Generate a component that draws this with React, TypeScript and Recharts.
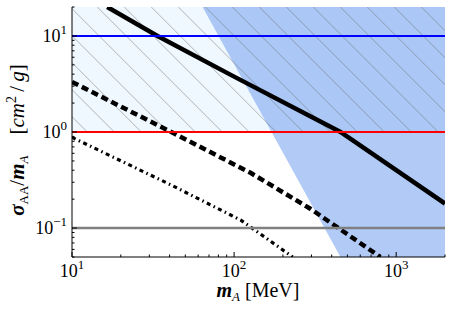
import { ComposedChart, Line, Area, XAxis, YAxis, Label } from 'recharts'

// x: m_A [MeV], y: sigma/m [cm^2/g], log-log
const xMajor = [10, 100, 1000]
const xMinor = [20, 30, 40, 50, 60, 70, 80, 90, 200, 300, 400, 500, 600, 700, 800, 900, 2000]
const yMajor = [0.1, 1, 10]
const yMinor = [0.05, 0.06, 0.07, 0.08, 0.09, 0.2, 0.3, 0.4, 0.5, 0.6, 0.7, 0.8, 0.9, 2, 3, 4, 5, 6, 7, 8, 9, 20]

const solidMass = [16.5, 33.7, 100, 453, 2000]
const solidSigma = [20, 10, 3.77, 1, 0.18]

const dashedMass = [10, 41, 127, 297, 798]
const dashedSigma = [3.32, 1, 0.374, 0.158, 0.05]

const dashDotMass = [10, 41, 110, 230]
const dashDotSigma = [0.88, 0.28, 0.121, 0.05]

const limitMass = [10, 2000]
const blueLevel = 10
const redLevel = 1
const grayLevel = 0.1

// shaded regions: [low, high] per x
const excludedMass = [63.9, 453, 2000]
const excludedLow = [20, 0.05, 0.05]
const excludedHigh = [20, 20, 20]

const hatchMass = [10, 2000]
const hatchLow = [1, 1]
const hatchHigh = [20, 20]

const rows = (m: number[], s: number[]) => m.map((v, i) => ({ m: v, s: s[i] }))
const ranges = (m: number[], lo: number[], hi: number[]) => m.map((v, i) => ({ m: v, r: [lo[i], hi[i]] }))
const flat = (lvl: number) => limitMass.map((v) => ({ m: v, s: lvl }))

const FONT = 'Liberation Serif'
const TICK_FS = 18

const isMajor = (list: number[], v: number) => list.some((t) => Math.abs(t - v) < 1e-9)

const Pow = ({ v }: { v: number }) => {
  const e = Math.round(Math.log10(v))
  return (
    <>
      <tspan>10</tspan>
      <tspan dy={-8} fontSize={13}>{e < 0 ? '\u2212' + Math.abs(e) : String(e)}</tspan>
    </>
  )
}

const BottomTick = (props: any) => {
  const { x, y, payload } = props
  const major = isMajor(xMajor, payload.value)
  return (
    <g>
      <line x1={x} y1={y} x2={x} y2={y - (major ? 5 : 2.5)} stroke="#000" strokeWidth={1} />
      {major && (
        <text x={x} y={y + 20} textAnchor="middle" fontFamily={FONT} fontSize={TICK_FS} fill="#000">
          <Pow v={payload.value} />
        </text>
      )}
    </g>
  )
}

const TopTick = (props: any) => {
  const { x, y, payload } = props
  const major = isMajor(xMajor, payload.value)
  return <line x1={x} y1={y} x2={x} y2={y + (major ? 5 : 2.5)} stroke="#000" strokeWidth={1} />
}

const LeftTick = (props: any) => {
  const { x, y, payload } = props
  const major = isMajor(yMajor, payload.value)
  return (
    <g>
      <line x1={x} y1={y} x2={x + (major ? 5 : 2.5)} y2={y} stroke="#000" strokeWidth={1} />
      {major && (
        <text x={x - 5} y={y + 6} textAnchor="end" fontFamily={FONT} fontSize={TICK_FS} fill="#000">
          <Pow v={payload.value} />
        </text>
      )}
    </g>
  )
}

const RightTick = (props: any) => {
  const { x, y, payload } = props
  const major = isMajor(yMajor, payload.value)
  return <line x1={x} y1={y} x2={x - (major ? 5 : 2.5)} y2={y} stroke="#000" strokeWidth={1} />
}

const YTitle = () => (
  <text
    x={24}
    y={140}
    transform="rotate(-90, 24, 140)"
    textAnchor="middle"
    fontFamily={FONT}
    fontSize={21}
    fill="#000"
  >
    <tspan fontWeight="bold" fontStyle="italic">σ</tspan>
    <tspan fontSize={13} dy={4}>AA</tspan>
    <tspan dy={-4}>/</tspan>
    <tspan fontWeight="bold" fontStyle="italic">m</tspan>
    <tspan fontSize={13} dy={4} fontStyle="italic">A</tspan>
    <tspan dy={-4}>{'\u00a0\u00a0\u00a0\u00a0['}</tspan>
    <tspan fontStyle="italic">cm</tspan>
    <tspan fontSize={14} dy={-8}>2</tspan>
    <tspan dy={8}>{'\u2009/\u2009'}</tspan>
    <tspan fontStyle="italic">g</tspan>
    <tspan>]</tspan>
  </text>
)

const XTitle = () => (
  <text x={258} y={297} textAnchor="middle" fontFamily={FONT} fontSize={20} fill="#000">
    <tspan fontWeight="bold" fontStyle="italic">m</tspan>
    <tspan fontSize={13} dy={4} fontStyle="italic">A</tspan>
    <tspan dy={-4}>{'\u00a0[MeV]'}</tspan>
  </text>
)

export default function App() {
  return (
    <div style={{ position: 'absolute', left: 0, top: 0, background: '#fff' }}>
      <ComposedChart width={454} height={310} margin={{ top: 7, right: 9, bottom: 0, left: 0 }}>
        <defs>
          <pattern id="hatch" patternUnits="userSpaceOnUse" x={9.3} y={0} width={27} height={27}>
            <path d="M-1,-1 L28,28 M-1,26 L1,28 M26,-1 L28,1" stroke="#6f6f6f" strokeWidth={0.5} fill="none" />
          </pattern>
        </defs>
        <XAxis
          xAxisId="b"
          dataKey="m"
          type="number"
          scale="log"
          domain={[10, 2000]}
          allowDataOverflow
          ticks={[...xMajor, ...xMinor]}
          interval={0}
          tickSize={0}
          tickMargin={0}
          tickLine={false}
          tick={BottomTick}
          height={53}
          axisLine={{ stroke: '#000', strokeWidth: 1 }}
        >
          <Label content={XTitle} />
        </XAxis>
        <XAxis
          xAxisId="t"
          orientation="top"
          dataKey="m"
          type="number"
          scale="log"
          domain={[10, 2000]}
          allowDataOverflow
          ticks={[...xMajor, ...xMinor]}
          interval={0}
          tickSize={0}
          tickMargin={0}
          tickLine={false}
          tick={TopTick}
          height={0}
          axisLine={{ stroke: '#000', strokeWidth: 1 }}
        />
        <YAxis
          yAxisId="l"
          type="number"
          scale="log"
          domain={[0.05, 20]}
          allowDataOverflow
          ticks={[...yMajor, ...yMinor]}
          interval={0}
          tickSize={0}
          tickMargin={0}
          tickLine={false}
          tick={LeftTick}
          width={72}
          axisLine={{ stroke: '#000', strokeWidth: 1 }}
        >
          <Label content={YTitle} />
        </YAxis>
        <YAxis
          yAxisId="r"
          orientation="right"
          type="number"
          scale="log"
          domain={[0.05, 20]}
          allowDataOverflow
          ticks={[...yMajor, ...yMinor]}
          interval={0}
          tickSize={0}
          tickMargin={0}
          tickLine={false}
          tick={RightTick}
          width={0}
          axisLine={{ stroke: '#000', strokeWidth: 1 }}
        />

        <Area
          xAxisId="b"
          yAxisId="l"
          data={ranges(hatchMass, hatchLow, hatchHigh)}
          dataKey="r"
          type="linear"
          fill="#f0f8ff"
          fillOpacity={1}
          stroke="none"
          isAnimationActive={false}
        />
        <Area
          xAxisId="b"
          yAxisId="l"
          data={ranges(excludedMass, excludedLow, excludedHigh)}
          dataKey="r"
          type="linear"
          fill="#6495ed"
          fillOpacity={0.5}
          stroke="none"
          isAnimationActive={false}
        />
        <Area
          xAxisId="b"
          yAxisId="l"
          data={ranges(hatchMass, hatchLow, hatchHigh)}
          dataKey="r"
          type="linear"
          fill="url(#hatch)"
          fillOpacity={1}
          stroke="none"
          isAnimationActive={false}
        />

        <Line xAxisId="b" yAxisId="l" data={rows(solidMass, solidSigma)} dataKey="s" type="linear"
          stroke="#000" strokeWidth={4.5} dot={false} isAnimationActive={false} />
        <Line xAxisId="b" yAxisId="l" data={rows(dashedMass, dashedSigma)} dataKey="s" type="linear"
          stroke="#000" strokeWidth={4.5} strokeDasharray="7 4" dot={false} isAnimationActive={false} />
        <Line xAxisId="b" yAxisId="l" data={rows(dashDotMass, dashDotSigma)} dataKey="s" type="linear"
          stroke="#000" strokeWidth={3.2} strokeDasharray="4 3.5 1.5 3.5" dot={false} isAnimationActive={false} />

        <Line xAxisId="b" yAxisId="l" data={flat(blueLevel)} dataKey="s" type="linear"
          stroke="#0000ff" strokeWidth={2} dot={false} isAnimationActive={false} />
        <Line xAxisId="b" yAxisId="l" data={flat(redLevel)} dataKey="s" type="linear"
          stroke="#ff0000" strokeWidth={2} dot={false} isAnimationActive={false} />
        <Line xAxisId="b" yAxisId="l" data={flat(grayLevel)} dataKey="s" type="linear"
          stroke="#808080" strokeWidth={2.5} dot={false} isAnimationActive={false} />
      </ComposedChart>
    </div>
  )
}
